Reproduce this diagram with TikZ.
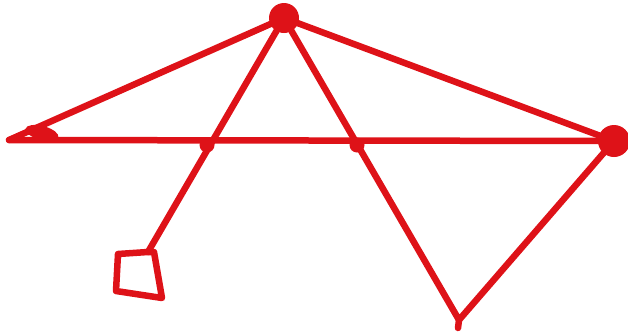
\documentclass[tikz,border=0pt]{standalone}
\usetikzlibrary{shapes.geometric}
\begin{document}
\begin{tikzpicture}[x=1pt,y=-1pt,
  stroke/.style={draw=redink,line width=6.5pt,line cap=round,line join=round},
  blob/.style={circle,fill=redink,inner sep=0pt,minimum size=#1}]
\definecolor{redink}{RGB}{222,18,24}
\useasboundingbox (0,0) rectangle (628,335);
\coordinate (T) at (284,18);
\coordinate (L) at (9,140);
\coordinate (R) at (614,141);
\coordinate (B) at (459,320);
\coordinate (S) at (148,252);
\coordinate (I1) at (207,145);
\coordinate (I2) at (357,145);
\node[blob=30pt] (nt) at (T) {};
\node[blob=32pt] (nr) at (R) {};
\node[ellipse,fill=redink,inner sep=0pt,minimum width=34pt,minimum height=14pt,rotate=-15] (nl) at (42,133) {};
\node[blob=15pt] (n1) at (I1) {};
\node[blob=15pt] (n2) at (I2) {};
\draw[stroke] (L) -- (R);
\draw[stroke] (L) -- (T) -- (R);
\draw[stroke] (T) -- (S);
\draw[stroke] (T) -- (B) -- (R);
\draw[stroke] (B) -- (458,328);
\draw[stroke] (S) -- (118,254) -- (116,291) -- (162,298) -- (154,252) -- cycle;
\end{tikzpicture}
\end{document}
